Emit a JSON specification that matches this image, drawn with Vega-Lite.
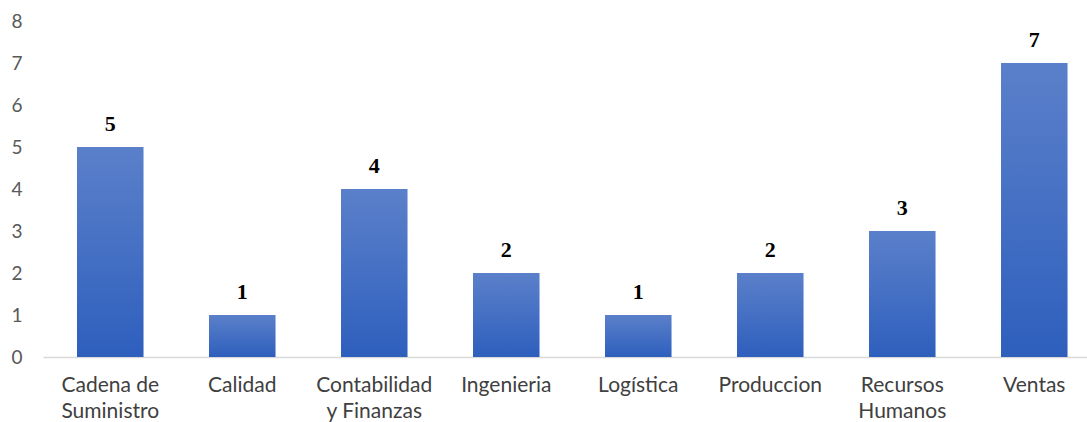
{
  "$schema": "https://vega.github.io/schema/vega-lite/v6.json",
  "autosize": {"type": "none"},
  "padding": {"left": 43, "top": 21, "right": 0, "bottom": 65},
  "width": 1044,
  "height": 336,
  "background": "white",
  "config": {"view": {"stroke": null}},
  "data": {"values": [
    {"area": "Cadena de Suministro", "count": 5},
    {"area": "Calidad", "count": 1},
    {"area": "Contabilidad y Finanzas", "count": 4},
    {"area": "Ingenieria", "count": 2},
    {"area": "Logística", "count": 1},
    {"area": "Produccion", "count": 2},
    {"area": "Recursos Humanos", "count": 3},
    {"area": "Ventas", "count": 7}
  ]},
  "encoding": {
    "x": {"field": "area", "type": "nominal", "sort": null,
      "scale": {"paddingInner": 0.496, "paddingOuter": 0.2025, "align": 0.636},
      "axis": {"title": null, "labelAngle": 0, "ticks": false, "domainColor": "#D9D9D9", "domainWidth": 1.3,
        "labelFont": "Lato", "labelFontSize": 21, "labelColor": "#404040", "labelPadding": 17, "labelLineHeight": 26,
        "labelExpr": "datum.label == 'Cadena de Suministro' ? ['Cadena de', 'Suministro'] : datum.label == 'Contabilidad y Finanzas' ? ['Contabilidad', 'y Finanzas'] : datum.label == 'Recursos Humanos' ? ['Recursos', 'Humanos'] : datum.label"}},
    "y": {"field": "count", "type": "quantitative",
      "scale": {"domain": [0, 8], "nice": false},
      "axis": {"title": null, "grid": false, "ticks": false, "domain": false, "values": [0,1,2,3,4,5,6,7,8], "labelOverlap": false,
        "labelFont": "Lato", "labelFontSize": 19, "labelColor": "#595959", "labelPadding": 21}}
  },
  "layer": [
    {"mark": {"type": "bar", "color": {"gradient": "linear", "x1": 0, "y1": 0, "x2": 0, "y2": 1,
      "stops": [{"offset": 0, "color": "#5B80CA"}, {"offset": 1, "color": "#2E5FBD"}]}}},
    {"mark": {"type": "text", "font": "Liberation Serif", "fontWeight": "bold", "fontSize": 22, "color": "#000000", "baseline": "alphabetic", "dy": -16},
     "encoding": {"text": {"field": "count", "type": "quantitative"}}}
  ]
}
